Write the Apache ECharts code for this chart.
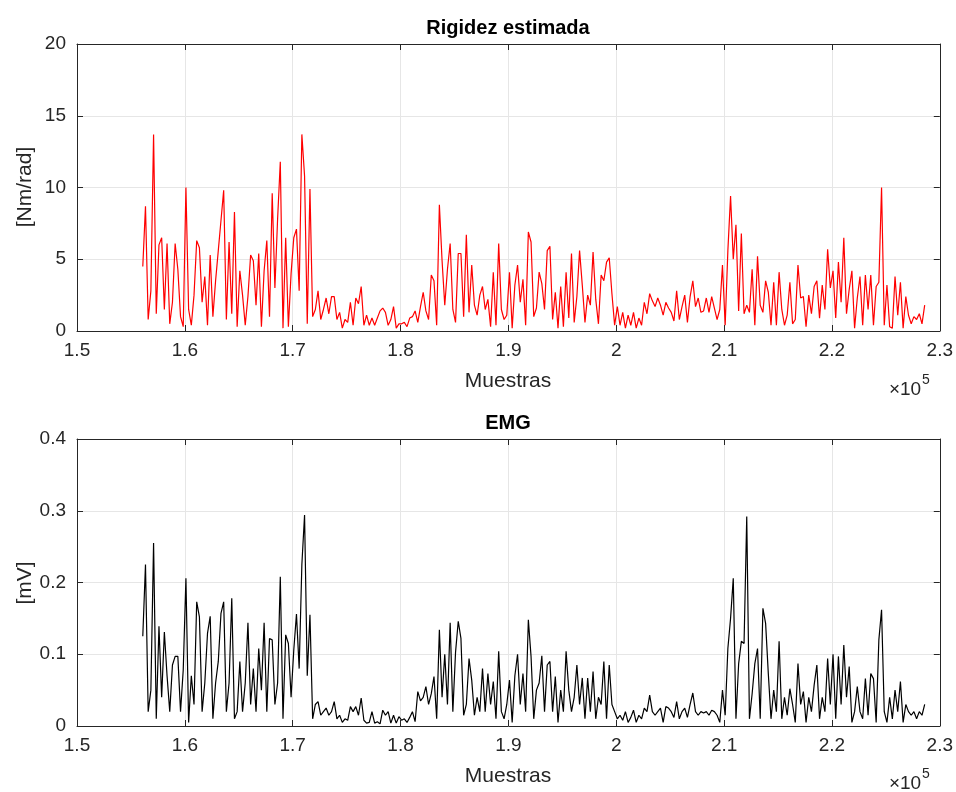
<!DOCTYPE html>
<html><head><meta charset="utf-8">
<script src="https://cdn.jsdelivr.net/npm/echarts@6/dist/echarts.min.js"></script>
<style>html,body{margin:0;padding:0;background:#fff}#c{width:956px;height:792px}</style>
</head><body><div id="c"></div>
<script>
// Sampling grid of the traces (sample index on the x axis)
const sampleStart = 156100;
const sampleStep = 250;

// Tick values
const xTickMin = 150000, xTickMax = 230000, xTickStep = 10000;
const rigidezTicks = [0, 5, 10, 15, 20];
const emgTicks = [0, 0.1, 0.2, 0.3, 0.4];

// Titles / labels
const titleTop = 'Rigidez estimada';
const titleBottom = 'EMG';
const xName = 'Muestras';
const yNameTop = '[Nm/rad]';
const yNameBottom = '[mV]';

// Rigidez estimada [Nm/rad]
const rigidez = [
4.5,8.7,0.8,2.8,13.7,1.2,6.0,6.5,1.5,6.1,0.5,2.0,6.1,4.3,1.0,0.3,10.0,1.5,0.4,2.5,
6.3,5.8,2.0,3.8,0.4,5.3,1.0,3.5,5.6,7.7,9.8,0.8,6.2,1.2,8.3,0.3,4.2,2.5,0.4,2.4,
5.3,4.9,1.8,5.4,0.3,4.2,6.3,1.0,
9.6,3.0,7.8,11.8,0.2,6.5,0.3,4.0,6.5,7.1,2.8,13.7,10.8,0.5,9.9,1.0,1.5,2.8,0.8,1.5,
2.3,1.2,2.4,2.4,0.8,1.3,0.2,0.8,0.6,2.0,0.4,2.3,1.9,3.1,0.4,1.1,0.4,0.9,0.4,0.9,
1.4,1.6,1.3,0.4,0.8,1.7,0.2,0.5,0.5,0.6,
0.3,0.9,1.0,1.4,0.6,1.7,2.7,1.4,0.8,3.9,3.5,0.4,8.8,4.9,1.8,4.3,6.1,1.5,0.6,5.4,
5.4,1.0,6.7,1.3,4.6,1.8,1.1,2.5,3.1,1.5,2.2,0.3,4.1,0.4,6.1,1.5,0.8,1.1,4.1,0.2,
3.2,4.6,2.0,3.6,0.4,6.9,6.2,1.0,1.6,
4.1,3.3,1.5,5.6,5.9,0.8,2.7,0.2,3.1,0.3,4.1,0.9,5.4,0.6,2.4,5.6,3.2,0.6,2.5,1.8,
5.5,2.2,0.5,3.9,3.5,4.8,5.1,2.6,0.4,1.7,0.4,1.3,0.2,1.1,0.4,1.3,0.2,0.9,0.4,2.0,
1.2,2.6,2.1,1.7,2.3,1.8,1.1,2.0,1.6,
1.3,0.7,2.8,0.8,1.7,2.5,0.6,2.4,3.5,1.7,2.3,1.3,1.4,2.3,1.3,2.4,1.6,0.8,1.5,4.6,
0.4,5.6,9.4,5.0,7.4,1.4,6.8,1.2,1.8,1.3,4.3,0.4,5.2,1.8,1.3,3.5,2.7,0.4,3.4,0.4,
4.1,1.5,0.4,1.1,3.4,0.5,0.8,4.6,2.3,
2.4,0.3,2.5,1.2,3.1,3.5,0.9,3.2,1.5,5.7,3.0,4.2,0.9,4.8,2.0,6.5,1.2,2.9,4.2,0.2,
2.3,3.8,0.4,3.9,1.5,3.9,0.4,3.1,3.4,10.0,0.4,3.2,0.3,0.2,3.8,1.1,3.4,0.2,2.4,1.1,
0.5,1.0,0.8,1.2,0.5,1.8
];

// EMG [mV]
const emg = [
0.125,0.225,0.02,0.05,0.255,0.01,0.139,0.04,0.131,0.07,0.02,0.085,0.097,0.097,0.02,0.078,0.206,0.005,0.07,0.03,
0.173,0.152,0.02,0.06,0.129,0.153,0.01,0.06,0.09,0.157,0.173,0.02,0.06,0.178,0.01,0.02,0.09,0.02,0.06,0.144,
0.03,0.08,0.02,0.108,0.05,0.144,0.02,0.122,
0.12,0.03,0.06,0.208,0.01,0.127,0.115,0.04,0.106,0.156,0.08,0.225,0.294,0.07,0.155,0.01,0.03,0.034,0.015,0.02,
0.025,0.015,0.02,0.034,0.01,0.015,0.005,0.01,0.008,0.027,0.02,0.027,0.015,0.039,0.008,0.004,0.005,0.02,0.004,0.006,
0.003,0.022,0.015,0.02,0.004,0.015,0.004,0.013,0.008,0.01,
0.005,0.012,0.02,0.006,0.048,0.035,0.04,0.055,0.03,0.045,0.069,0.01,0.134,0.04,0.1,0.03,0.144,0.02,0.103,0.146,
0.122,0.015,0.03,0.094,0.064,0.015,0.04,0.02,0.08,0.02,0.073,0.03,0.062,0.01,0.104,0.02,0.01,0.03,0.064,0.005,
0.07,0.1,0.03,0.073,0.02,0.148,0.097,0.01,0.05,
0.06,0.098,0.02,0.085,0.09,0.02,0.069,0.005,0.05,0.02,0.104,0.05,0.02,0.04,0.085,0.03,0.067,0.01,0.067,0.02,
0.076,0.01,0.04,0.03,0.09,0.01,0.085,0.03,0.02,0.01,0.015,0.008,0.02,0.005,0.012,0.022,0.005,0.015,0.01,0.025,
0.02,0.043,0.02,0.015,0.02,0.025,0.005,0.027,0.025,
0.02,0.012,0.034,0.01,0.02,0.025,0.012,0.03,0.046,0.02,0.015,0.02,0.018,0.02,0.015,0.022,0.02,0.015,0.005,0.05,
0.015,0.108,0.15,0.206,0.01,0.087,0.118,0.115,0.292,0.01,0.045,0.087,0.108,0.01,0.164,0.143,0.073,0.01,0.05,0.02,
0.118,0.01,0.04,0.015,0.052,0.03,0.005,0.087,0.03,
0.048,0.005,0.04,0.02,0.057,0.085,0.01,0.04,0.02,0.094,0.03,0.1,0.01,0.097,0.03,0.113,0.04,0.083,0.005,0.02,
0.055,0.02,0.01,0.066,0.015,0.073,0.066,0.005,0.12,0.162,0.02,0.005,0.04,0.01,0.05,0.02,0.062,0.005,0.03,0.02,
0.015,0.02,0.01,0.02,0.015,0.03
];

const FONT = '"Liberation Sans", Arial, Helvetica, sans-serif';
const AX = '#262626';
const GRIDC = '#e6e6e6';

const toPairs = arr => arr.map((v, i) => [sampleStart + i * sampleStep, v]);
const fmtX = v => String(Math.round(v / 1e4) / 10);

function xAx(grid, pos) {
  const main = pos === 'bottom';
  return {
    type: 'value', gridIndex: grid, position: pos,
    min: xTickMin, max: xTickMax, interval: xTickStep,
    axisLine: { show: true, onZero: false, lineStyle: { color: AX, width: 1 } },
    axisTick: { show: true, inside: true, length: 6, lineStyle: { color: AX } },
    axisLabel: { show: main, formatter: fmtX, fontSize: 19, color: AX, fontFamily: FONT, margin: 10 },
    splitLine: { show: main, lineStyle: { color: GRIDC, width: 1 } }
  };
}
function yAx(grid, pos, ticks, fmt) {
  const main = pos === 'left';
  return {
    type: 'value', gridIndex: grid, position: pos,
    min: ticks[0], max: ticks[ticks.length - 1], interval: ticks[1] - ticks[0],
    axisLine: { show: true, onZero: false, lineStyle: { color: AX, width: 1 } },
    axisTick: { show: true, inside: true, length: 6, lineStyle: { color: AX } },
    axisLabel: { show: main, fontSize: 19, color: AX, fontFamily: FONT, margin: 11, formatter: fmt },
    splitLine: { show: main, lineStyle: { color: GRIDC, width: 1 } }
  };
}

const chart = echarts.init(document.getElementById('c'), null, { renderer: 'canvas' });
const gTop = { left: 77, right: 16, top: 44, height: 287 };
const gBot = { left: 77, right: 16, top: 439, height: 287 };

function txt(text, x, y, size, bold, rot) {
  return {
    type: 'text', x: x, y: y, rotation: rot || 0,
    style: { text: text, font: (bold ? 'bold ' : '') + size + 'px ' + FONT, fill: bold ? '#000' : AX,
      align: 'center', verticalAlign: 'middle' }
  };
}

chart.setOption({
  animation: false,
  backgroundColor: '#fff',
  grid: [gTop, gBot],
  xAxis: [xAx(0, 'bottom'), xAx(0, 'top'), xAx(1, 'bottom'), xAx(1, 'top')],
  yAxis: [
    yAx(0, 'left', rigidezTicks, v => String(v)), yAx(0, 'right', rigidezTicks),
    yAx(1, 'left', emgTicks, v => String(Math.round(v * 10) / 10)), yAx(1, 'right', emgTicks)
  ],
  series: [
    { type: 'line', xAxisIndex: 0, yAxisIndex: 0, data: toPairs(rigidez), showSymbol: false,
      lineStyle: { color: '#ff0000', width: 1.2 }, itemStyle: { color: '#ff0000' } },
    { type: 'line', xAxisIndex: 2, yAxisIndex: 2, data: toPairs(emg), showSymbol: false,
      lineStyle: { color: '#000000', width: 1.2 }, itemStyle: { color: '#000' } }
  ],
  graphic: [
    txt(titleTop, 508, 28, 20, true),
    txt(titleBottom, 508, 423, 20, true),
    txt(xName, 508, 381, 21, false),
    txt(xName, 508, 776, 21, false),
    txt(yNameTop, 25, 187, 21, false, Math.PI / 2),
    txt(yNameBottom, 25, 583, 21, false, Math.PI / 2),
    txt('\u00d710', 905, 390, 19, false),
    txt('5', 926, 380, 14, false),
    txt('\u00d710', 905, 784, 19, false),
    txt('5', 926, 774, 14, false)
  ]
});
</script>
</body></html>
